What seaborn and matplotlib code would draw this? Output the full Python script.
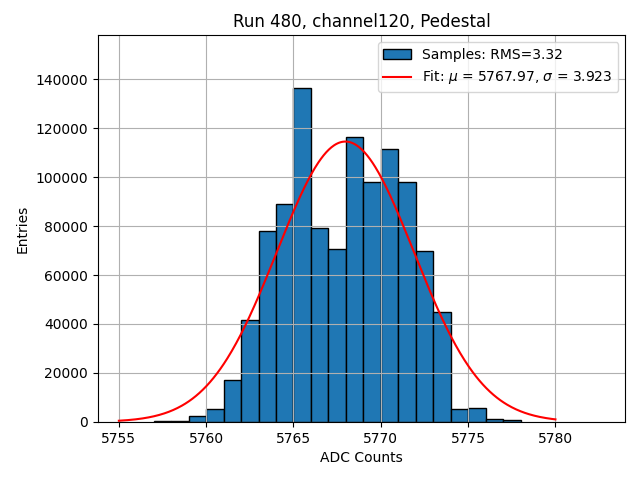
import matplotlib
matplotlib.use("Agg")
import matplotlib.pyplot as plt
import numpy as np
import pandas as pd
import seaborn as sns

# ADC bins (lower edges) and entries
bin_lo = [5757, 5758, 5759, 5760, 5761, 5762, 5763, 5764, 5765, 5766, 5767,
          5768, 5769, 5770, 5771, 5772, 5773, 5774, 5775, 5776, 5777]
entries = [300, 500, 2400, 5300, 17000, 41500, 78000, 89000, 136500, 79000, 70500,
           116500, 98000, 111500, 98000, 70000, 45000, 5200, 5800, 1200, 700]

# gaussian fit parameters
fit_mu = 5767.97
fit_sigma = 3.923
fit_amp = 114500
fit_range = (5755, 5780)
rms = 3.32

df = pd.DataFrame({"adc": np.array(bin_lo) + 0.5, "n": entries})

fig, ax = plt.subplots(figsize=(6.4, 4.8), dpi=100)
sns.histplot(data=df, x="adc", weights="n", binwidth=1,
             binrange=(bin_lo[0], bin_lo[-1] + 1), stat="count",
             color="#1f77b4", edgecolor="black", linewidth=1, alpha=1,
             label="Samples: RMS=%.2f" % rms, ax=ax)

xs = np.linspace(fit_range[0], fit_range[1], 500)
ys = fit_amp * np.exp(-0.5 * ((xs - fit_mu) / fit_sigma) ** 2)
ax.plot(xs, ys, color="red",
        label=r"Fit: $\mu$ = %.2f, $\sigma$ = %.3f" % (fit_mu, fit_sigma))

ax.set_xlim(5753.8, 5784.0)
ax.set_ylim(0, 158000)
ax.set_title("Run 480, channel120, Pedestal")
ax.set_xlabel("ADC Counts")
ax.set_ylabel("Entries")
ax.grid(True)

# histogram entry first, then the fit
handles, labels = ax.get_legend_handles_labels()
order = [labels.index(l) for l in labels if l.startswith("Samples")] + \
        [labels.index(l) for l in labels if l.startswith("Fit")]
ax.legend([handles[i] for i in order], [labels[i] for i in order], loc="upper right")

fig.subplots_adjust(left=0.153, right=0.977, top=0.927, bottom=0.121)
fig.savefig("out.png")
